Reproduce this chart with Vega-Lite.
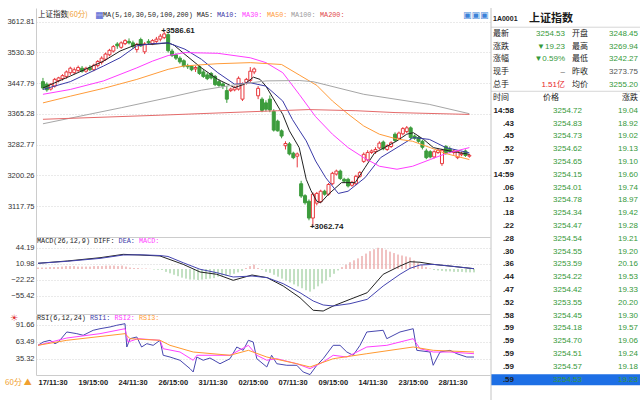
{
"$schema":"https://vega.github.io/schema/vega-lite/v6.json",
"padding":{"top":7,"left":0,"right":0,"bottom":0},
"background":"#ffffff",
"config":{"view":{"stroke":null},"text":{"font":"Liberation Sans, Noto Sans CJK SC"},"axis":{"labelFont":"Liberation Sans","labelOverlap":false}},
"datasets":{
"bars":[
{"i":0,"o":3452,"h":3462,"l":3430,"c":3435},{"i":1,"o":3445,"h":3450,"l":3425,"c":3430},{"i":2,"o":3432,"h":3448,"l":3428,"c":3445},{"i":3,"o":3440,"h":3462,"l":3436,"c":3458},{"i":4,"o":3455,"h":3465,"l":3450,"c":3462},{"i":5,"o":3460,"h":3472,"l":3455,"c":3468},{"i":6,"o":3466,"h":3482,"l":3460,"c":3478},{"i":7,"o":3476,"h":3492,"l":3470,"c":3488},{"i":8,"o":3476,"h":3490,"l":3472,"c":3484},{"i":9,"o":3482,"h":3495,"l":3478,"c":3490},
{"i":10,"o":3488,"h":3494,"l":3476,"c":3480},{"i":11,"o":3480,"h":3492,"l":3476,"c":3488},{"i":12,"o":3490,"h":3496,"l":3480,"c":3484},{"i":13,"o":3484,"h":3500,"l":3480,"c":3496},{"i":14,"o":3495,"h":3510,"l":3490,"c":3506},{"i":15,"o":3504,"h":3520,"l":3498,"c":3515},{"i":16,"o":3512,"h":3530,"l":3508,"c":3526},{"i":17,"o":3524,"h":3540,"l":3520,"c":3536},{"i":18,"o":3534,"h":3550,"l":3530,"c":3546},{"i":19,"o":3553,"h":3558,"l":3540,"c":3548},
{"i":20,"o":3544,"h":3560,"l":3540,"c":3556},{"i":21,"o":3554,"h":3566,"l":3550,"c":3562},{"i":22,"o":3560,"h":3568,"l":3552,"c":3556},{"i":23,"o":3556,"h":3562,"l":3540,"c":3546},{"i":24,"o":3538,"h":3556,"l":3530,"c":3552},{"i":25,"o":3565,"h":3570,"l":3545,"c":3548},{"i":26,"o":3532,"h":3558,"l":3526,"c":3553},{"i":27,"o":3560,"h":3566,"l":3552,"c":3556},{"i":28,"o":3554,"h":3566,"l":3550,"c":3562},{"i":29,"o":3560,"h":3572,"l":3556,"c":3566},
{"i":30,"o":3566,"h":3580,"l":3560,"c":3574},{"i":31,"o":3570,"h":3586.61,"l":3566,"c":3580},{"i":32,"o":3578,"h":3582,"l":3530,"c":3535},{"i":33,"o":3534,"h":3540,"l":3518,"c":3522},{"i":34,"o":3524,"h":3528,"l":3510,"c":3515},{"i":35,"o":3515,"h":3520,"l":3500,"c":3505},{"i":36,"o":3508,"h":3512,"l":3490,"c":3494},{"i":37,"o":3494,"h":3500,"l":3486,"c":3492},{"i":38,"o":3493,"h":3496,"l":3480,"c":3484},{"i":39,"o":3486,"h":3494,"l":3478,"c":3490},
{"i":40,"o":3492,"h":3496,"l":3470,"c":3474},{"i":41,"o":3478,"h":3484,"l":3462,"c":3466},{"i":42,"o":3470,"h":3476,"l":3456,"c":3460},{"i":43,"o":3474,"h":3478,"l":3458,"c":3462},{"i":44,"o":3466,"h":3470,"l":3440,"c":3444},{"i":45,"o":3452,"h":3458,"l":3438,"c":3442},{"i":46,"o":3446,"h":3450,"l":3432,"c":3440},{"i":47,"o":3428,"h":3440,"l":3395,"c":3405},{"i":48,"o":3428,"h":3436,"l":3424,"c":3432},{"i":49,"o":3430,"h":3440,"l":3426,"c":3436},
{"i":50,"o":3432,"h":3466,"l":3428,"c":3461},{"i":51,"o":3405,"h":3450,"l":3400,"c":3445},{"i":52,"o":3450,"h":3462,"l":3444,"c":3458},{"i":53,"o":3455,"h":3491,"l":3450,"c":3480},{"i":54,"o":3478,"h":3490,"l":3472,"c":3486},{"i":55,"o":3414,"h":3440,"l":3405,"c":3434},{"i":56,"o":3405,"h":3410,"l":3370,"c":3375},{"i":57,"o":3395,"h":3402,"l":3372,"c":3378},{"i":58,"o":3405,"h":3415,"l":3370,"c":3376},{"i":59,"o":3372,"h":3378,"l":3318,"c":3322},
{"i":60,"o":3346,"h":3350,"l":3318,"c":3320},{"i":61,"o":3320,"h":3324,"l":3300,"c":3306},{"i":62,"o":3280,"h":3292,"l":3270,"c":3286},{"i":63,"o":3285,"h":3290,"l":3254,"c":3258},{"i":64,"o":3260,"h":3264,"l":3244,"c":3248},{"i":65,"o":3252,"h":3262,"l":3222,"c":3258},{"i":66,"o":3178,"h":3186,"l":3140,"c":3145},{"i":67,"o":3146,"h":3150,"l":3122,"c":3127},{"i":68,"o":3131,"h":3136,"l":3080,"c":3086},{"i":69,"o":3086,"h":3155,"l":3062.74,"c":3150},
{"i":70,"o":3126,"h":3156,"l":3120,"c":3152},{"i":71,"o":3130,"h":3162,"l":3126,"c":3158},{"i":72,"o":3158,"h":3162,"l":3146,"c":3150},{"i":73,"o":3150,"h":3180,"l":3146,"c":3176},{"i":74,"o":3178,"h":3210,"l":3175,"c":3206},{"i":75,"o":3204,"h":3216,"l":3200,"c":3212},{"i":76,"o":3212,"h":3216,"l":3188,"c":3192},{"i":77,"o":3190,"h":3194,"l":3180,"c":3185},{"i":78,"o":3190,"h":3194,"l":3168,"c":3172},{"i":79,"o":3174,"h":3186,"l":3170,"c":3182},
{"i":80,"o":3178,"h":3202,"l":3174,"c":3198},{"i":81,"o":3198,"h":3212,"l":3194,"c":3208},{"i":82,"o":3238,"h":3262,"l":3234,"c":3257},{"i":83,"o":3242,"h":3268,"l":3238,"c":3262},{"i":84,"o":3262,"h":3270,"l":3258,"c":3266},{"i":85,"o":3264,"h":3276,"l":3258,"c":3270},{"i":86,"o":3274,"h":3292,"l":3270,"c":3287},{"i":87,"o":3290,"h":3294,"l":3268,"c":3272},{"i":88,"o":3270,"h":3284,"l":3266,"c":3280},{"i":89,"o":3278,"h":3292,"l":3274,"c":3288},
{"i":90,"o":3311,"h":3316,"l":3290,"c":3294},{"i":91,"o":3300,"h":3318,"l":3296,"c":3314},{"i":92,"o":3312,"h":3330,"l":3308,"c":3326},{"i":93,"o":3318,"h":3333,"l":3314,"c":3328},{"i":94,"o":3328,"h":3332,"l":3298,"c":3302},{"i":95,"o":3306,"h":3310,"l":3296,"c":3300},{"i":96,"o":3302,"h":3306,"l":3288,"c":3292},{"i":97,"o":3292,"h":3296,"l":3270,"c":3276},{"i":98,"o":3266,"h":3272,"l":3244,"c":3248},{"i":99,"o":3264,"h":3268,"l":3246,"c":3250},
{"i":100,"o":3250,"h":3268,"l":3246,"c":3264},{"i":101,"o":3262,"h":3272,"l":3258,"c":3268},{"i":102,"o":3232,"h":3272,"l":3226,"c":3268},{"i":103,"o":3278,"h":3282,"l":3256,"c":3260},{"i":104,"o":3272,"h":3278,"l":3260,"c":3264},{"i":105,"o":3262,"h":3270,"l":3256,"c":3266},{"i":106,"o":3248,"h":3268,"l":3244,"c":3265},{"i":107,"o":3256,"h":3264,"l":3252,"c":3260},{"i":108,"o":3266,"h":3270,"l":3250,"c":3254},{"i":109,"o":3252,"h":3258,"l":3248,"c":3254.53}
],
"ma":[
{"s":"MA5","i":0,"v":3435},{"s":"MA5","i":7,"v":3467},{"s":"MA5","i":15.5,"v":3507},{"s":"MA5","i":19.7,"v":3534},{"s":"MA5","i":24,"v":3552},{"s":"MA5","i":28,"v":3552},{"s":"MA5","i":32,"v":3556},{"s":"MA5","i":33.5,"v":3550},{"s":"MA5","i":36.3,"v":3525},{"s":"MA5","i":40.5,"v":3489},{"s":"MA5","i":44.7,"v":3458},{"s":"MA5","i":49,"v":3436},{"s":"MA5","i":51.5,"v":3445},{"s":"MA5","i":53.8,"v":3464},{"s":"MA5","i":55.5,"v":3458},{"s":"MA5","i":57,"v":3440},{"s":"MA5","i":61.3,"v":3364},{"s":"MA5","i":63,"v":3320},{"s":"MA5","i":65.5,"v":3275},{"s":"MA5","i":67.3,"v":3190},{"s":"MA5","i":68.5,"v":3160},{"s":"MA5","i":70,"v":3131},{"s":"MA5","i":71,"v":3127},{"s":"MA5","i":73,"v":3150},{"s":"MA5","i":76.3,"v":3181},{"s":"MA5","i":79.8,"v":3181},{"s":"MA5","i":82.3,"v":3221},{"s":"MA5","i":84.8,"v":3261},{"s":"MA5","i":87.3,"v":3275},{"s":"MA5","i":90.5,"v":3293},{"s":"MA5","i":93,"v":3311},{"s":"MA5","i":94.7,"v":3315},{"s":"MA5","i":97.3,"v":3297},{"s":"MA5","i":99.8,"v":3275},{"s":"MA5","i":103,"v":3268},{"s":"MA5","i":106,"v":3262},{"s":"MA5","i":109,"v":3257},
{"s":"MA10","i":0,"v":3431},{"s":"MA10","i":7,"v":3452},{"s":"MA10","i":15.5,"v":3494},{"s":"MA10","i":19.7,"v":3516},{"s":"MA10","i":24,"v":3548},{"s":"MA10","i":28,"v":3554},{"s":"MA10","i":32,"v":3556},{"s":"MA10","i":36.3,"v":3539},{"s":"MA10","i":40.5,"v":3512},{"s":"MA10","i":44.7,"v":3476},{"s":"MA10","i":49,"v":3445},{"s":"MA10","i":53,"v":3449},{"s":"MA10","i":57,"v":3440},{"s":"MA10","i":61.3,"v":3400},{"s":"MA10","i":63.8,"v":3350},{"s":"MA10","i":65.5,"v":3322},{"s":"MA10","i":67.3,"v":3293},{"s":"MA10","i":69.7,"v":3239},{"s":"MA10","i":72.3,"v":3194},{"s":"MA10","i":75.5,"v":3152},{"s":"MA10","i":78,"v":3158},{"s":"MA10","i":82.3,"v":3194},{"s":"MA10","i":86.3,"v":3248},{"s":"MA10","i":90.5,"v":3275},{"s":"MA10","i":94.7,"v":3302},{"s":"MA10","i":98.8,"v":3297},{"s":"MA10","i":103,"v":3275},{"s":"MA10","i":109,"v":3261},
{"s":"MA30","i":0,"v":3418},{"s":"MA30","i":7,"v":3431},{"s":"MA30","i":15.5,"v":3454},{"s":"MA30","i":24,"v":3489},{"s":"MA30","i":28,"v":3507},{"s":"MA30","i":32,"v":3522},{"s":"MA30","i":36.3,"v":3530},{"s":"MA30","i":44.7,"v":3528},{"s":"MA30","i":53,"v":3516},{"s":"MA30","i":57,"v":3503},{"s":"MA30","i":61.3,"v":3476},{"s":"MA30","i":65.5,"v":3418},{"s":"MA30","i":69.7,"v":3358},{"s":"MA30","i":74,"v":3311},{"s":"MA30","i":78,"v":3275},{"s":"MA30","i":82,"v":3248},{"s":"MA30","i":86,"v":3225},{"s":"MA30","i":90.5,"v":3217},{"s":"MA30","i":94.5,"v":3225},{"s":"MA30","i":99,"v":3243},{"s":"MA30","i":103,"v":3259},{"s":"MA30","i":109,"v":3275},
{"s":"MA50","i":0,"v":3395},{"s":"MA50","i":7,"v":3413},{"s":"MA50","i":15.5,"v":3434},{"s":"MA50","i":24,"v":3458},{"s":"MA50","i":32,"v":3485},{"s":"MA50","i":36,"v":3494},{"s":"MA50","i":44.5,"v":3500},{"s":"MA50","i":53,"v":3503},{"s":"MA50","i":61,"v":3498},{"s":"MA50","i":65.5,"v":3470},{"s":"MA50","i":70,"v":3442},{"s":"MA50","i":74,"v":3400},{"s":"MA50","i":78,"v":3365},{"s":"MA50","i":82,"v":3333},{"s":"MA50","i":86,"v":3311},{"s":"MA50","i":90.5,"v":3298},{"s":"MA50","i":94.5,"v":3292},{"s":"MA50","i":99,"v":3275},{"s":"MA50","i":103,"v":3259},{"s":"MA50","i":109,"v":3243},
{"s":"MA100","i":0,"v":3339},{"s":"MA100","i":20,"v":3382},{"s":"MA100","i":32,"v":3409},{"s":"MA100","i":40.5,"v":3429},{"s":"MA100","i":48.75,"v":3443},{"s":"MA100","i":57,"v":3454},{"s":"MA100","i":65.5,"v":3455},{"s":"MA100","i":69,"v":3452},{"s":"MA100","i":82,"v":3418},{"s":"MA100","i":98.75,"v":3391},{"s":"MA100","i":109,"v":3366},
{"s":"MA200","i":0,"v":3351},{"s":"MA200","i":30,"v":3362},{"s":"MA200","i":60,"v":3374},{"s":"MA200","i":68,"v":3377},{"s":"MA200","i":80,"v":3374},{"s":"MA200","i":90,"v":3369},{"s":"MA200","i":109,"v":3364}
],
"macd":[
{"s":"DIFF","i":0,"v":11.8},{"s":"DIFF","i":7.3,"v":16.6},{"s":"DIFF","i":15.5,"v":23.4},{"s":"DIFF","i":21.3,"v":30.4},{"s":"DIFF","i":25.5,"v":29},{"s":"DIFF","i":30.5,"v":27},{"s":"DIFF","i":36.3,"v":9.6},{"s":"DIFF","i":40.5,"v":-6.2},{"s":"DIFF","i":44.7,"v":-11},{"s":"DIFF","i":48.8,"v":-23.5},{"s":"DIFF","i":53.5,"v":-12.5},{"s":"DIFF","i":57.3,"v":-18},{"s":"DIFF","i":61.3,"v":-35.3},{"s":"DIFF","i":65.5,"v":-59.6},{"s":"DIFF","i":68.8,"v":-85.7},{"s":"DIFF","i":71.3,"v":-87.2},{"s":"DIFF","i":73.8,"v":-76.8},{"s":"DIFF","i":78,"v":-63},{"s":"DIFF","i":82.3,"v":-49.2},{"s":"DIFF","i":86.3,"v":-11},{"s":"DIFF","i":90.5,"v":6.2},{"s":"DIFF","i":93,"v":15.1},{"s":"DIFF","i":95.5,"v":14},{"s":"DIFF","i":98.8,"v":9.6},{"s":"DIFF","i":103,"v":6},{"s":"DIFF","i":109,"v":0.6},
{"s":"DEA","i":0,"v":11.8},{"s":"DEA","i":7.3,"v":16},{"s":"DEA","i":15.5,"v":22},{"s":"DEA","i":21.3,"v":29},{"s":"DEA","i":25.5,"v":29.5},{"s":"DEA","i":30.5,"v":28},{"s":"DEA","i":32.5,"v":26},{"s":"DEA","i":36.3,"v":13},{"s":"DEA","i":40.5,"v":-0.6},{"s":"DEA","i":44.7,"v":-7.7},{"s":"DEA","i":48.8,"v":-16.6},{"s":"DEA","i":53.5,"v":-14.6},{"s":"DEA","i":57.3,"v":-18},{"s":"DEA","i":61.3,"v":-30.5},{"s":"DEA","i":65.5,"v":-49.2},{"s":"DEA","i":68.8,"v":-66.4},{"s":"DEA","i":71.3,"v":-74.7},{"s":"DEA","i":73.8,"v":-76.8},{"s":"DEA","i":78,"v":-72},{"s":"DEA","i":82.3,"v":-63},{"s":"DEA","i":86.3,"v":-35.3},{"s":"DEA","i":90.5,"v":-11},{"s":"DEA","i":93,"v":1.4},{"s":"DEA","i":95.5,"v":8.3},{"s":"DEA","i":98.8,"v":9.6},{"s":"DEA","i":103,"v":6.2},{"s":"DEA","i":109,"v":0.6}
],
"hist":[
{"i":0,"m":3},{"i":1,"m":3},{"i":2,"m":3},{"i":3,"m":4},{"i":4,"m":4},{"i":5,"m":4},{"i":6,"m":5},{"i":7,"m":6},{"i":8,"m":6},{"i":9,"m":6},{"i":10,"m":5},{"i":11,"m":5},{"i":12,"m":5},{"i":13,"m":5},{"i":14,"m":6},{"i":15,"m":6},{"i":16,"m":6},{"i":17,"m":7},{"i":18,"m":7},{"i":19,"m":7},{"i":20,"m":6},{"i":21,"m":7},{"i":22,"m":5},{"i":23,"m":3},{"i":24,"m":2},{"i":25,"m":2},{"i":26,"m":1},{"i":27,"m":1},{"i":28,"m":0.5},{"i":29,"m":-1},{"i":30,"m":-1.5},{"i":31,"m":-2},{"i":32,"m":-6},{"i":33,"m":-9},{"i":34,"m":-12},{"i":35,"m":-15},{"i":36,"m":-18},{"i":37,"m":-20},{"i":38,"m":-22},{"i":39,"m":-22},{"i":40,"m":-23},{"i":41,"m":-22},{"i":42,"m":-21},{"i":43,"m":-20},{"i":44,"m":-19},{"i":45,"m":-16},{"i":46,"m":-14},{"i":47,"m":-14},{"i":48,"m":-12},{"i":49,"m":-10},{"i":50,"m":-7},{"i":51,"m":-4},{"i":52,"m":2},{"i":53,"m":6},{"i":54,"m":9},{"i":55,"m":2},{"i":56,"m":-2},{"i":57,"m":-6},{"i":58,"m":-8},{"i":59,"m":-12},{"i":60,"m":-16},{"i":61,"m":-20},{"i":62,"m":-24},{"i":63,"m":-28},{"i":64,"m":-32},{"i":65,"m":-36},{"i":66,"m":-40},{"i":67,"m":-44},{"i":68,"m":-47},{"i":69,"m":-42},{"i":70,"m":-36},{"i":71,"m":-30},{"i":72,"m":-24},{"i":73,"m":-17},{"i":74,"m":-10},{"i":75,"m":-3},{"i":76,"m":4},{"i":77,"m":9},{"i":78,"m":14},{"i":79,"m":18},{"i":80,"m":22},{"i":81,"m":27},{"i":82,"m":32},{"i":83,"m":37},{"i":84,"m":41},{"i":85,"m":44},{"i":86,"m":43},{"i":87,"m":40},{"i":88,"m":36},{"i":89,"m":33},{"i":90,"m":30},{"i":91,"m":28},{"i":92,"m":26},{"i":93,"m":24},{"i":94,"m":18},{"i":95,"m":12},{"i":96,"m":8},{"i":97,"m":4},{"i":98,"m":1},{"i":99,"m":-2},{"i":100,"m":-3},{"i":101,"m":-4},{"i":102,"m":-5},{"i":103,"m":-5},{"i":104,"m":-6},{"i":105,"m":-6},{"i":106,"m":-6},{"i":107,"m":-7},{"i":108,"m":-7},{"i":109,"m":-7}
],
"rsi":[
{"s":"RSI1","i":0,"v":57.5},{"s":"RSI1","i":1.3,"v":63},{"s":"RSI1","i":3,"v":65.8},{"s":"RSI1","i":4.25,"v":60.2},{"s":"RSI1","i":5.1,"v":63},{"s":"RSI1","i":7.2,"v":79.6},{"s":"RSI1","i":9.7,"v":76.8},{"s":"RSI1","i":11.3,"v":74.1},{"s":"RSI1","i":13.8,"v":82.4},{"s":"RSI1","i":15.5,"v":85},{"s":"RSI1","i":18,"v":87.9},{"s":"RSI1","i":19.7,"v":90.7},{"s":"RSI1","i":21.75,"v":93.3},{"s":"RSI1","i":22.2,"v":54.7},{"s":"RSI1","i":23,"v":68.5},{"s":"RSI1","i":24.7,"v":71.3},{"s":"RSI1","i":25.9,"v":54.7},{"s":"RSI1","i":27.2,"v":60.2},{"s":"RSI1","i":28.8,"v":57.5},{"s":"RSI1","i":30.5,"v":65.8},{"s":"RSI1","i":31.3,"v":41},{"s":"RSI1","i":33,"v":38.1},{"s":"RSI1","i":35.5,"v":32.7},{"s":"RSI1","i":38,"v":18.8},{"s":"RSI1","i":38.8,"v":13.3},{"s":"RSI1","i":39.7,"v":38.1},{"s":"RSI1","i":41.3,"v":32.7},{"s":"RSI1","i":43,"v":36.5},{"s":"RSI1","i":45.5,"v":27},{"s":"RSI1","i":48,"v":35.3},{"s":"RSI1","i":49.7,"v":54.7},{"s":"RSI1","i":51.3,"v":49.2},{"s":"RSI1","i":52.6,"v":65.8},{"s":"RSI1","i":53.8,"v":63},{"s":"RSI1","i":54.7,"v":35.3},{"s":"RSI1","i":57.2,"v":21.6},{"s":"RSI1","i":58.4,"v":41},{"s":"RSI1","i":59.7,"v":27},{"s":"RSI1","i":62.2,"v":24.4},{"s":"RSI1","i":64.7,"v":24.4},{"s":"RSI1","i":66.3,"v":13.3},{"s":"RSI1","i":68,"v":9},{"s":"RSI1","i":69.7,"v":24.4},{"s":"RSI1","i":71.3,"v":35.3},{"s":"RSI1","i":73.8,"v":57.5},{"s":"RSI1","i":75.5,"v":57.5},{"s":"RSI1","i":77.2,"v":46.4},{"s":"RSI1","i":78.8,"v":41},{"s":"RSI1","i":80.5,"v":57.5},{"s":"RSI1","i":82.2,"v":79.6},{"s":"RSI1","i":86.3,"v":82.4},{"s":"RSI1","i":87.2,"v":68.5},{"s":"RSI1","i":90.5,"v":79.6},{"s":"RSI1","i":93.8,"v":85},{"s":"RSI1","i":94.7,"v":49.2},{"s":"RSI1","i":98,"v":46.4},{"s":"RSI1","i":98.8,"v":24.4},{"s":"RSI1","i":100.5,"v":46.4},{"s":"RSI1","i":103,"v":49.2},{"s":"RSI1","i":104.7,"v":43.6},{"s":"RSI1","i":107.2,"v":38.1},{"s":"RSI1","i":109,"v":38.1},
{"s":"RSI2","i":0,"v":57.5},{"s":"RSI2","i":7.2,"v":69.6},{"s":"RSI2","i":15.5,"v":76.8},{"s":"RSI2","i":21.75,"v":85},{"s":"RSI2","i":22.5,"v":63},{"s":"RSI2","i":25,"v":68.5},{"s":"RSI2","i":30.5,"v":65.8},{"s":"RSI2","i":31.3,"v":51.9},{"s":"RSI2","i":35.5,"v":46.4},{"s":"RSI2","i":38.8,"v":32.7},{"s":"RSI2","i":39.7,"v":41},{"s":"RSI2","i":48,"v":41},{"s":"RSI2","i":52.6,"v":57.5},{"s":"RSI2","i":54.7,"v":41},{"s":"RSI2","i":57.2,"v":32.7},{"s":"RSI2","i":59.7,"v":35.3},{"s":"RSI2","i":64.7,"v":27},{"s":"RSI2","i":68,"v":18.8},{"s":"RSI2","i":71.3,"v":29.9},{"s":"RSI2","i":73.8,"v":41},{"s":"RSI2","i":77.2,"v":38.1},{"s":"RSI2","i":82.2,"v":54.7},{"s":"RSI2","i":87.2,"v":57.5},{"s":"RSI2","i":93.8,"v":68.5},{"s":"RSI2","i":95.5,"v":51.9},{"s":"RSI2","i":98.8,"v":46.4},{"s":"RSI2","i":103,"v":46.4},{"s":"RSI2","i":109,"v":43.6},
{"s":"RSI3","i":0,"v":57.5},{"s":"RSI3","i":7.2,"v":65.8},{"s":"RSI3","i":21.75,"v":76.8},{"s":"RSI3","i":23,"v":68.5},{"s":"RSI3","i":30.5,"v":65.8},{"s":"RSI3","i":33,"v":57.5},{"s":"RSI3","i":38.8,"v":46.4},{"s":"RSI3","i":48,"v":41},{"s":"RSI3","i":52.6,"v":49.2},{"s":"RSI3","i":57.2,"v":38.1},{"s":"RSI3","i":64.7,"v":27},{"s":"RSI3","i":68,"v":21.6},{"s":"RSI3","i":73.8,"v":35.3},{"s":"RSI3","i":82.2,"v":43.6},{"s":"RSI3","i":93.8,"v":54.7},{"s":"RSI3","i":98.8,"v":49.2},{"s":"RSI3","i":109,"v":46.4}
],
"quotes":[
{"row":1,"l1":"最新","v1":"3254.53","t1":"down","l2":"开盘","v2":"3248.45","t2":"down"},
{"row":2,"l1":"涨跌","v1":"▼19.23","t1":"down","l2":"最高","v2":"3269.94","t2":"down"},
{"row":3,"l1":"涨幅","v1":"▼0.59%","t1":"down","l2":"最低","v2":"3242.27","t2":"down"},
{"row":4,"l1":"现手","v1":"–","t1":"flat","l2":"昨收","v2":"3273.75","t2":"flat"},
{"row":5,"l1":"总手","v1":"1.51亿","t1":"up","l2":"均价","v2":"3255.20","t2":"down"},
{"row":6,"l1":"时间","v1":"","t1":"dark","l2":"","v2":"涨跌","t2":"dark"}
],
"ticks":[
{"row":7,"time":"14:58","price":"3254.72","chg":"19.04"},{"row":8,"time":".43","price":"3254.83","chg":"18.92"},{"row":9,"time":".45","price":"3254.73","chg":"19.02"},{"row":10,"time":".52","price":"3254.62","chg":"19.13"},{"row":11,"time":".57","price":"3254.65","chg":"19.10"},{"row":12,"time":"14:59","price":"3254.15","chg":"19.60"},{"row":13,"time":".06","price":"3254.01","chg":"19.74"},{"row":14,"time":".12","price":"3254.78","chg":"18.97"},{"row":15,"time":".18","price":"3254.34","chg":"19.42"},{"row":16,"time":".22","price":"3254.47","chg":"19.28"},{"row":17,"time":".28","price":"3254.54","chg":"19.21"},{"row":18,"time":".30","price":"3254.55","chg":"19.20"},{"row":19,"time":".36","price":"3253.59","chg":"20.16"},{"row":20,"time":".44","price":"3254.22","chg":"19.53"},{"row":21,"time":".47","price":"3254.42","chg":"19.33"},{"row":22,"time":".52","price":"3253.55","chg":"20.20"},{"row":23,"time":".58","price":"3254.45","chg":"19.30"},{"row":24,"time":".59","price":"3254.18","chg":"19.57"},{"row":25,"time":".59","price":"3254.70","chg":"19.06"},{"row":26,"time":".59","price":"3254.51","chg":"19.24"},{"row":27,"time":".59","price":"3254.57","chg":"19.18"},{"row":28,"time":".59","price":"3254.53","chg":"19.23","sel":true}
]
},
"spacing":0,
"resolve":{"scale":{"color":"independent"}},
"hconcat":[
{"spacing":0,"resolve":{"scale":{"color":"independent"}},
"vconcat":[
{"width":454,"height":229,
"layer":[
{"data":{"name":"bars"},"mark":{"type":"rule","strokeWidth":1},
"encoding":{
"x":{"field":"i","type":"quantitative","scale":{"domain":[-0.5,113],"nice":false,"zero":false},"axis":{"labels":false,"ticks":false,"grid":false,"domain":true,"domainColor":"#cccccc","title":null,"minExtent":0,"maxExtent":0}},
"y":{"field":"l","type":"quantitative","scale":{"domain":[3035.16,3649.57],"nice":false,"zero":false},"axis":{"values":[3117.75,3200.26,3282.77,3365.28,3447.79,3530.30,3612.81],"tickCount":30,"format":".2f","labelOverlap":false,"grid":true,"gridColor":"#d4d4d4","gridDash":[1,2],"ticks":false,"domain":true,"domainColor":"#cccccc","labelFontSize":7.5,"labelColor":"#333333","labelPadding":2,"minExtent":36,"maxExtent":36,"title":null}},
"y2":{"field":"h"},
"color":{"condition":{"test":"datum.c >= datum.o","value":"#e8383d"},"value":"#3c9c3c"}}},
{"data":{"name":"bars"},"mark":{"type":"bar","size":3,"strokeWidth":1},
"encoding":{"x":{"field":"i","type":"quantitative"},"y":{"field":"o","type":"quantitative"},"y2":{"field":"c"},
"fill":{"condition":{"test":"datum.c >= datum.o","value":"#ffffff"},"value":"#3c9c3c"},
"stroke":{"condition":{"test":"datum.c >= datum.o","value":"#e8383d"},"value":"#3c9c3c"}}},
{"data":{"name":"ma"},"mark":{"type":"line","strokeWidth":1},
"encoding":{"x":{"field":"i","type":"quantitative"},"y":{"field":"v","type":"quantitative"},
"color":{"field":"s","type":"nominal","scale":{"domain":["MA5","MA10","MA30","MA50","MA100","MA200"],"range":["#222222","#3b3ba8","#ff3cff","#ff9c3a","#a6a6a6","#e46a6a"]},"legend":null}}},
{"data":{"values":[{"i":31,"p":3586.61,"t":"+3586.61"},{"i":69,"p":3062.74,"t":"+3062.74"}]},"mark":{"type":"text","align":"left","baseline":"middle","dx":-3,"fontSize":8,"fontWeight":"bold","color":"#222222"},
"encoding":{"x":{"field":"i","type":"quantitative"},"y":{"field":"p","type":"quantitative"},"text":{"field":"t"}}},
{"data":{"values":[{}]},"mark":{"type":"text","text":"上证指数","x":2,"y":7,"align":"left","baseline":"middle","fontSize":7.5,"color":"#222222","font":"Noto Sans CJK SC"},"encoding":{}},
{"data":{"values":[{}]},"mark":{"type":"text","text":"(60分)","x":31,"y":7,"align":"left","baseline":"middle","fontSize":7.5,"color":"#f0a030","font":"Noto Sans CJK SC"},"encoding":{}},
{"data":{"values":[{}]},"mark":{"type":"text","text":"▦","x":59,"y":7,"align":"left","baseline":"middle","fontSize":9,"color":"#4a5ad0","font":"DejaVu Sans"},"encoding":{}},
{"data":{"values":[{}]},"mark":{"type":"text","text":"MA(5,10,30,50,100,200) MA5:","x":67,"y":7,"align":"left","baseline":"middle","fontSize":6.8,"color":"#222222","font":"Liberation Mono"},"encoding":{}},
{"data":{"values":[{}]},"mark":{"type":"text","text":"MA10:","x":181,"y":7,"align":"left","baseline":"middle","fontSize":6.8,"color":"#3b3ba8","font":"Liberation Mono"},"encoding":{}},
{"data":{"values":[{}]},"mark":{"type":"text","text":"MA30:","x":206,"y":7,"align":"left","baseline":"middle","fontSize":6.8,"color":"#ff3cff","font":"Liberation Mono"},"encoding":{}},
{"data":{"values":[{}]},"mark":{"type":"text","text":"MA50:","x":231,"y":7,"align":"left","baseline":"middle","fontSize":6.8,"color":"#ff9c3a","font":"Liberation Mono"},"encoding":{}},
{"data":{"values":[{}]},"mark":{"type":"text","text":"MA100:","x":255,"y":7,"align":"left","baseline":"middle","fontSize":6.8,"color":"#9a9a9a","font":"Liberation Mono"},"encoding":{}},
{"data":{"values":[{}]},"mark":{"type":"text","text":"MA200:","x":284,"y":7,"align":"left","baseline":"middle","fontSize":6.8,"color":"#e04a4a","font":"Liberation Mono"},"encoding":{}},
{"data":{"values":[{}]},"mark":{"type":"text","text":"▣▣▣","x":427,"y":7,"align":"left","baseline":"middle","fontSize":9,"color":"#3b82d8","font":"DejaVu Sans"},"encoding":{}}
]},
{"width":454,"height":77,
"layer":[
{"data":{"name":"hist"},"mark":{"type":"rule","strokeWidth":1},
"encoding":{
"x":{"field":"i","type":"quantitative","scale":{"domain":[-0.5,113],"nice":false,"zero":false},"axis":{"labels":false,"ticks":false,"grid":false,"domain":true,"domainColor":"#cccccc","title":null,"minExtent":0,"maxExtent":0}},
"y":{"field":"m","type":"quantitative","scale":{"domain":[-93.42,66.40],"nice":false,"zero":false},"axis":{"values":[44.19,10.98,-22.22,-55.42],"tickCount":30,"format":".2f","labelOverlap":false,"grid":true,"gridColor":"#d4d4d4","gridDash":[1,2],"ticks":false,"domain":true,"domainColor":"#cccccc","labelFontSize":7.5,"labelColor":"#333333","labelPadding":2,"minExtent":36,"maxExtent":36,"title":null}},
"y2":{"datum":0},
"color":{"condition":{"test":"datum.m >= 0","value":"#e38585"},"value":"#86c286"}}},
{"data":{"name":"macd"},"mark":{"type":"line","strokeWidth":1},
"encoding":{"x":{"field":"i","type":"quantitative"},"y":{"field":"v","type":"quantitative"},
"color":{"field":"s","type":"nominal","scale":{"domain":["DIFF","DEA"],"range":["#222222","#4444b0"]},"legend":null}}},
{"data":{"values":[{}]},"mark":{"type":"text","text":"MACD(26,12,9) DIFF:","x":1,"y":3.5,"align":"left","baseline":"middle","fontSize":6.8,"color":"#222222","font":"Liberation Mono"},"encoding":{}},
{"data":{"values":[{}]},"mark":{"type":"text","text":"DEA:","x":82.6,"y":3.5,"align":"left","baseline":"middle","fontSize":6.8,"color":"#3b3ba8","font":"Liberation Mono"},"encoding":{}},
{"data":{"values":[{}]},"mark":{"type":"text","text":"MACD:","x":103,"y":3.5,"align":"left","baseline":"middle","fontSize":6.8,"color":"#ff3cff","font":"Liberation Mono"},"encoding":{}}
]},
{"width":454,"height":60,
"layer":[
{"data":{"name":"rsi"},"mark":{"type":"line","strokeWidth":1},
"encoding":{
"x":{"field":"i","type":"quantitative","scale":{"domain":[-0.5,113],"nice":false,"zero":false},"axis":{"values":[0,10,20,30,40,50,60,70,80,90,100],"tickCount":30,"labelExpr":"['17/11:30','19/15:00','24/11:30','26/15:00','31/11:30','02/15:00','07/11:30','09/15:00','14/11:30','23/15:00','28/11:30'][round(datum.value/10)]","labelAlign":"left","labelFlush":false,"labelOverlap":false,"labelFontSize":7.5,"labelFontWeight":"bold","labelColor":"#222222","labelPadding":3,"ticks":false,"grid":false,"domain":true,"domainColor":"#cccccc","title":null}},
"y":{"field":"v","type":"quantitative","scale":{"domain":[8.31,107.73],"nice":false,"zero":false},"axis":{"values":[91.66,63.49,35.32],"tickCount":30,"format":".2f","labelOverlap":false,"grid":true,"gridColor":"#d4d4d4","gridDash":[1,2],"ticks":false,"domain":true,"domainColor":"#cccccc","labelFontSize":7.5,"labelColor":"#333333","labelPadding":2,"minExtent":36,"maxExtent":36,"title":null}},
"color":{"field":"s","type":"nominal","scale":{"domain":["RSI1","RSI2","RSI3"],"range":["#4848b0","#ff40ff","#ff9a30"]},"legend":null}}},
{"data":{"values":[{}]},"mark":{"type":"text","text":"RSI(6,12,24)","x":1,"y":3,"align":"left","baseline":"middle","fontSize":6.8,"color":"#222222","font":"Liberation Mono"},"encoding":{}},
{"data":{"values":[{}]},"mark":{"type":"text","text":"RSI1:","x":54,"y":3,"align":"left","baseline":"middle","fontSize":6.8,"color":"#3b3ba8","font":"Liberation Mono"},"encoding":{}},
{"data":{"values":[{}]},"mark":{"type":"text","text":"RSI2:","x":78.5,"y":3,"align":"left","baseline":"middle","fontSize":6.8,"color":"#ff3cff","font":"Liberation Mono"},"encoding":{}},
{"data":{"values":[{}]},"mark":{"type":"text","text":"RSI3:","x":103,"y":3,"align":"left","baseline":"middle","fontSize":6.8,"color":"#ff9a30","font":"Liberation Mono"},"encoding":{}},
{"data":{"values":[{}]},"mark":{"type":"text","text":"☀","x":-22,"y":3,"align":"center","baseline":"middle","fontSize":9,"color":"#e03030","font":"DejaVu Sans"},"encoding":{}},
{"data":{"values":[{}]},"mark":{"type":"text","text":"60分 ▲","x":-31,"y":68,"align":"left","baseline":"middle","fontSize":8,"color":"#f0a030","font":"Noto Sans CJK SC"},"encoding":{}}
]}
]},
{"width":150,"height":393,
"layer":[
{"data":{"name":"ticks"},"transform":[{"filter":"datum.sel"}],"mark":{"type":"rect","color":"#1d6fe5","yOffset":-5.5,"y2Offset":5.5},
"encoding":{"y":{"field":"row","type":"quantitative","scale":{"domain":[-1.016,29.66],"reverse":true,"nice":false,"zero":false},"axis":null},"y2":{"field":"row"}}},
{"data":{"values":[{"row":0},{"row":5}]},"mark":{"type":"rule","color":"#d6d6d6","yOffset":6.2},
"encoding":{"y":{"field":"row","type":"quantitative"}}},
{"data":{"values":[{}]},"mark":{"type":"rule","color":"#c4c4c4","strokeWidth":1},
"encoding":{"x":{"datum":"a","type":"nominal","scale":{"type":"point","domain":["a","b","c","d","e","f","g"],"padding":0},"axis":null}}},
{"data":{"values":[{"row":0,"t":"1A0001"}]},"mark":{"type":"text","align":"left","baseline":"middle","fontSize":7,"fontWeight":"bold","color":"#222222","dx":2,"dy":-2},
"encoding":{"x":{"datum":"a","type":"nominal"},"y":{"field":"row","type":"quantitative"},"text":{"field":"t"}}},
{"data":{"values":[{"row":0,"t":"上证指数"}]},"mark":{"type":"text","align":"left","baseline":"middle","fontSize":11,"fontWeight":"bold","color":"#1a1a1a","dx":13,"dy":-2,"font":"Noto Sans CJK SC"},
"encoding":{"x":{"datum":"b","type":"nominal"},"y":{"field":"row","type":"quantitative"},"text":{"field":"t"}}},
{"data":{"name":"quotes"},"mark":{"type":"text","align":"left","baseline":"middle","fontSize":8,"color":"#222222","dx":2},
"encoding":{"x":{"datum":"a","type":"nominal"},"y":{"field":"row","type":"quantitative"},"text":{"field":"l1"}}},
{"data":{"name":"quotes"},"mark":{"type":"text","align":"right","baseline":"middle","fontSize":8,"dx":-1},
"encoding":{"x":{"datum":"d","type":"nominal"},"y":{"field":"row","type":"quantitative"},"text":{"field":"v1"},
"color":{"field":"t1","type":"nominal","scale":{"domain":["dark","down","up","flat"],"range":["#222222","#35993a","#e8262a","#555555"]},"legend":null}}},
{"data":{"name":"quotes"},"mark":{"type":"text","align":"left","baseline":"middle","fontSize":8,"color":"#222222","dx":6},
"encoding":{"x":{"datum":"d","type":"nominal"},"y":{"field":"row","type":"quantitative"},"text":{"field":"l2"}}},
{"data":{"name":"quotes"},"mark":{"type":"text","align":"right","baseline":"middle","fontSize":8,"dx":-3},
"encoding":{"x":{"datum":"g","type":"nominal"},"y":{"field":"row","type":"quantitative"},"text":{"field":"v2"},
"color":{"field":"t2","type":"nominal","legend":null}}},
{"data":{"values":[{"row":6,"t":"价格"}]},"mark":{"type":"text","align":"center","baseline":"middle","fontSize":8,"color":"#222222","dx":10},
"encoding":{"x":{"datum":"c","type":"nominal"},"y":{"field":"row","type":"quantitative"},"text":{"field":"t"}}},
{"data":{"name":"ticks"},"mark":{"type":"text","align":"right","baseline":"middle","fontSize":8,"fontWeight":"bold","color":"#222222","dx":-2},
"encoding":{"x":{"datum":"b","type":"nominal"},"y":{"field":"row","type":"quantitative"},"text":{"field":"time"}}},
{"data":{"name":"ticks"},"mark":{"type":"text","align":"right","baseline":"middle","fontSize":8,"color":"#35993a","dx":-9},
"encoding":{"x":{"datum":"e","type":"nominal"},"y":{"field":"row","type":"quantitative"},"text":{"field":"price"}}},
{"data":{"name":"ticks"},"mark":{"type":"text","align":"right","baseline":"middle","fontSize":8,"color":"#35993a","dx":-3},
"encoding":{"x":{"datum":"g","type":"nominal"},"y":{"field":"row","type":"quantitative"},"text":{"field":"chg"}}}
]}
]
}
